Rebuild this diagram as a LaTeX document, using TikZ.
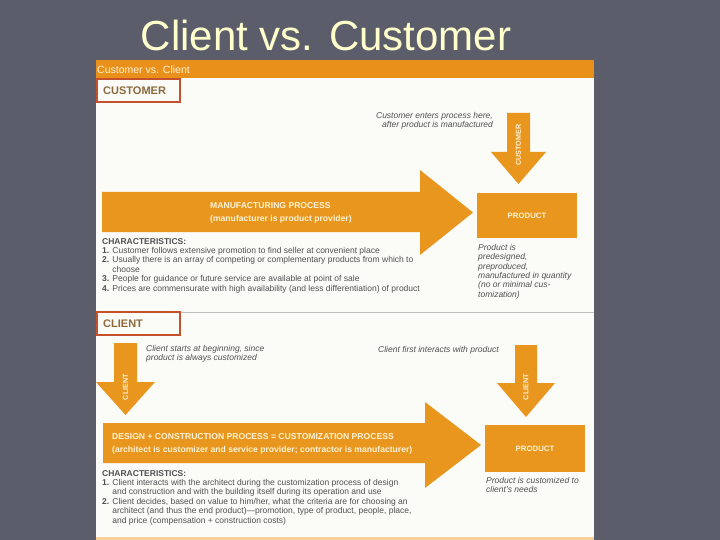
\documentclass[tikz,border=0pt]{standalone}
\usepackage{fontspec}
\setmainfont{Liberation Sans}
\definecolor{bg}{HTML}{5B5D6B}
\definecolor{panel}{HTML}{FBFBF8}
\definecolor{org}{HTML}{E8961E}
\definecolor{hdr}{HTML}{E9901A}
\definecolor{redline}{HTML}{C4512B}
\definecolor{lbl}{HTML}{8A6A3C}
\definecolor{cream}{HTML}{FFF3D6}
\definecolor{titlec}{HTML}{FFFFCC}
\definecolor{txt}{HTML}{505050}
\begin{document}
\begin{tikzpicture}[x=1pt,y=-1pt,
  small/.style={font=\fontsize{8.5}{9.4}\selectfont, text=txt, inner sep=0, anchor=north west, align=left},
  ital/.style={font=\fontsize{8.5}{9.4}\selectfont\itshape, text=txt, inner sep=0, align=left},
  intext/.style={font=\fontsize{8.6}{13.5}\selectfont\bfseries, text=cream, inner sep=0, anchor=north west, align=left},
  prod/.style={draw=none, fill=org, inner sep=0, font=\fontsize{7.8}{9}\selectfont\bfseries, text=cream},
  sect/.style={font=\fontsize{11}{12}\selectfont\bfseries, text=lbl, inner sep=0, anchor=west},
  vlab/.style={font=\fontsize{7.2}{7.5}\selectfont\bfseries, text=cream, rotate=90, inner sep=0},
  fat/.style={fill=org}
]
\useasboundingbox (0,0) rectangle (720,540);
\fill[bg] (0,0) rectangle (720,540);
\node[font=\fontsize{42}{42}\selectfont, text=titlec, inner sep=0] (title) at (326,35) {Client vs. Customer};
% panel
\fill[panel] (96,60) rectangle (594,540);
\fill[hdr] (96,60) rectangle (594,78);
\node[anchor=west, text=cream, font=\fontsize{10.5}{11}\selectfont, inner sep=0] (hdrtxt) at (97,70) {Customer vs. Client};
\fill[org!45] (96,537) rectangle (594,540);

% ---------------- CUSTOMER section
\draw[redline, line width=1.6] (96.8,78.8) rectangle (180,102);
\node[sect] (custlbl) at (103,90.5) {CUSTOMER};

\node[ital, anchor=north east, align=right] (custnote) at (493,112) {Customer enters process here,\\after product is manufactured};

\fill[fat] (507,113) -- (530,113) -- (530,152) -- (546,152) -- (518.5,184) -- (491,152) -- (507,152) -- cycle;
\node[vlab] (custv) at (518.5,145) {CUSTOMER};

\fill[fat] (102,192) -- (420,192) -- (420,170) -- (473,212.5) -- (420,255) -- (420,232) -- (102,232) -- cycle;
\node[intext] (mfg) at (210,202) {MANUFACTURING PROCESS\\(manufacturer is product provider)};

\node[prod, minimum width=100, minimum height=45] (prod1) at (527,215.5) {PRODUCT};

\node[small] (char1) at (102,238) {\textbf{CHARACTERISTICS:}\\
\textbf{1.} Customer follows extensive promotion to find seller at convenient place\\
\textbf{2.} Usually there is an array of competing or complementary products from which to\\
\phantom{\textbf{2.} }choose\\
\textbf{3.} People for guidance or future service are available at point of sale\\
\textbf{4.} Prices are commensurate with high availability (and less differentiation) of product};

\node[ital, anchor=north west] (prodnote1) at (478,244) {Product is\\predesigned,\\preproduced,\\manufactured in quantity\\(no or minimal cus-\\tomization)};

% ---------------- CLIENT section
\draw[black!25, line width=0.6] (96,312) -- (594,312);
\draw[redline, line width=1.6] (96.8,312) rectangle (180,335);
\node[sect] (clientlbl) at (103,323.5) {CLIENT};

\fill[fat] (114,343) -- (137,343) -- (137,382) -- (155,382) -- (125.5,415) -- (96,382) -- (114,382) -- cycle;
\node[vlab] (clv1) at (125.5,387) {CLIENT};
\node[ital, anchor=north west] (clnote1) at (146,345) {Client starts at beginning, since\\product is always customized};

\node[ital, anchor=west] (clnote2) at (378,350) {Client first interacts with product};
\fill[fat] (515,345) -- (537,345) -- (537,383) -- (555,383) -- (526,417) -- (497,383) -- (515,383) -- cycle;
\node[vlab] (clv2) at (526,387) {CLIENT};

\fill[fat] (103,423) -- (425,423) -- (425,402) -- (481,445) -- (425,488) -- (425,463) -- (103,463) -- cycle;
\node[intext] (des) at (112,433) {DESIGN + CONSTRUCTION PROCESS = CUSTOMIZATION PROCESS\\(architect is customizer and service provider; contractor is manufacturer)};

\node[prod, minimum width=100, minimum height=47] (prod2) at (535,448.5) {PRODUCT};

\node[small] (char2) at (102,470) {\textbf{CHARACTERISTICS:}\\
\textbf{1.} Client interacts with the architect during the customization process of design\\
\phantom{\textbf{1.} }and construction and with the building itself during its operation and use\\
\textbf{2.} Client decides, based on value to him/her, what the criteria are for choosing an\\
\phantom{\textbf{2.} }architect (and thus the end product)---promotion, type of product, people, place,\\
\phantom{\textbf{2.} }and price (compensation + construction costs)};

\node[ital, anchor=north west] (prodnote2) at (486,477) {Product is customized to\\client's needs};
\end{tikzpicture}
\end{document}
